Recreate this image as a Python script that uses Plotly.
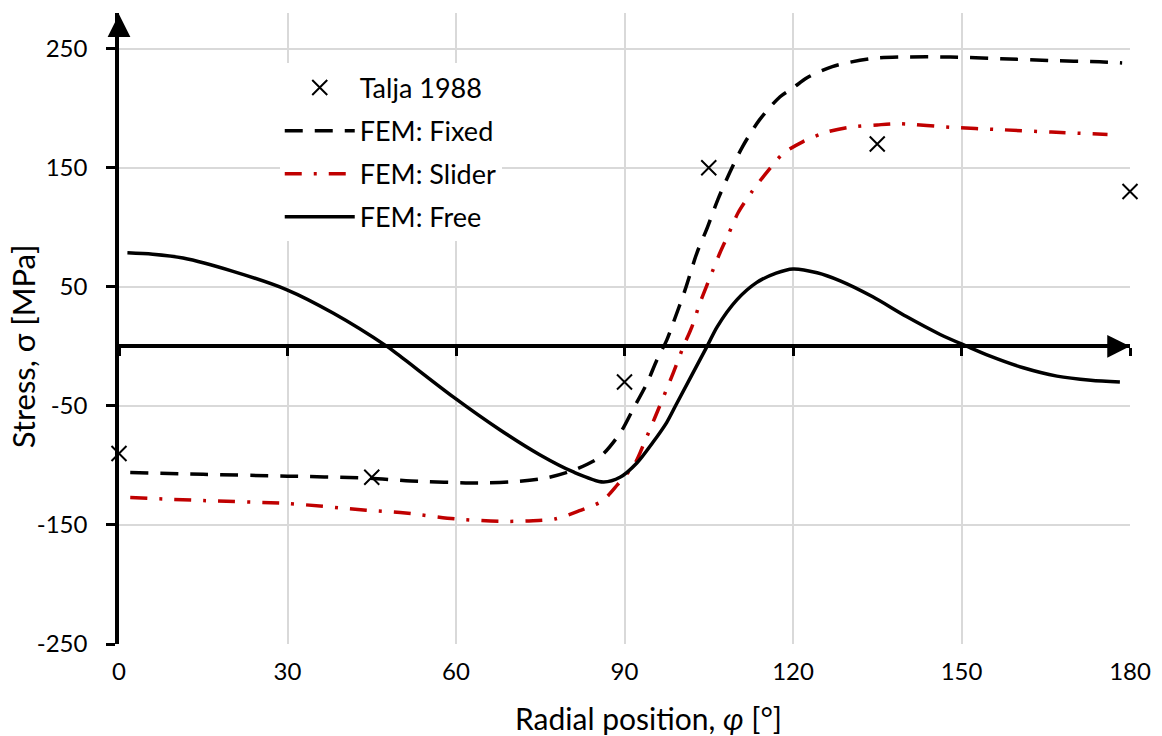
import plotly.graph_objects as go

# ---------------- data ----------------
talja_x = [0, 45, 90, 105, 135, 180]
talja_y = [-90, -110, -30, 150, 170, 130]

fixed_x = [2, 15, 30, 44, 52, 64, 70, 76, 80.9, 85.6, 89.2, 91.5, 94, 95.8, 97.5, 98.7,
           100.8, 102.9, 104.6, 106.6, 108.7, 111, 114, 117.7, 120, 122.5, 127, 133.7,
           139, 148, 157, 166, 174.6, 178.6]
fixed_y = [-106, -107.5, -109, -110.6, -113, -114.7, -113.8, -110.6, -104, -93, -73, -53,
           -31, -11, 5, 20, 47.6, 78.6, 98, 123, 145.6, 167.6, 190, 209.7, 217, 225.6,
           235, 241.6, 243, 243, 241.6, 240, 239, 238]

slider_x = [2, 15, 30, 44, 51, 60, 68, 73, 77.6, 82, 86, 88.8, 91.9, 93.6, 95.4, 98.7,
            100.5, 102, 103.4, 104.9, 107, 108.5, 110.2, 112.7, 115.4, 118.2, 121.8, 126,
            130, 135, 139, 148, 157, 166, 176]
slider_y = [-127, -129.5, -132, -137.6, -140, -145, -147, -146.6, -145, -138, -130, -116,
            -98, -80, -60, -22, 0, 16.4, 36, 54, 78.6, 94, 112, 130, 146.6, 161.7, 172,
            180, 184, 186, 187, 184, 182, 180, 178]

free_x = [1.5, 6, 11.4, 20.3, 29.9, 38.1, 47.7, 50, 59.5, 67.8, 74.9, 80.9, 86.2, 89.2,
          92.2, 95, 97.5, 99.3, 104.7, 106.5, 110, 113.5, 117, 120, 124.3, 128.4, 134.2,
          140.2, 146.2, 151, 155, 161, 167, 173, 178.2]
free_y = [78.6, 77.4, 74.2, 63, 47.5, 28, 0, -8, -42.4, -70, -91, -105.5, -113.9, -110,
          -98, -81, -64, -48, 0, 16.4, 39, 53.5, 61.5, 65, 61.8, 55, 41.6, 25, 10, 0, -8,
          -18, -25, -28.5, -30]

x_ticks = [0, 30, 60, 90, 120, 150, 180]
y_ticks = [-250, -150, -50, 50, 150, 250]
y_tick_text = ["-250", "-150", "-50", "50", "150", "250"]
x_range = [0, 180]
y_range = [-250, 280]

FONT = "Lato"
RED = "#C00000"
GRID = "#d9d9d9"

fig = go.Figure()

fig.add_trace(go.Scatter(
    x=fixed_x, y=fixed_y, mode="lines", name="FEM: Fixed", legendrank=2,
    legendgroup="b", line=dict(color="black", width=3.5, dash="18px,12px",
                               shape="spline", smoothing=0.8)))
fig.add_trace(go.Scatter(
    x=slider_x, y=slider_y, mode="lines", name="FEM: Slider", legendrank=3,
    legendgroup="c", line=dict(color=RED, width=3.5, dash="17px,12px,3px,12px",
                               shape="spline", smoothing=0.8)))
fig.add_trace(go.Scatter(
    x=free_x, y=free_y, mode="lines", name="FEM: Free", legendrank=4,
    legendgroup="d", line=dict(color="black", width=3.5, shape="spline", smoothing=0.8)))
fig.add_trace(go.Scatter(
    x=talja_x, y=talja_y, mode="markers", name="Talja 1988", legendrank=1,
    legendgroup="a", cliponaxis=False, xaxis="x2",
    marker=dict(symbol="x-thin", size=15, line=dict(color="black", width=2))))

fig.update_layout(
    width=1162, height=736,
    margin=dict(l=119, r=32, t=13, b=92),
    paper_bgcolor="white", plot_bgcolor="white",
    font=dict(family=FONT, size=24, color="black"),
    showlegend=True,
    legend=dict(x=0.159, y=0.92, xanchor="left", yanchor="top",
                bgcolor="white", borderwidth=0, tracegroupgap=5,
                itemwidth=70, font=dict(size=27)),
    xaxis=dict(range=x_range, tickvals=x_ticks, showgrid=True, gridcolor=GRID,
               gridwidth=1.5, showline=False, zeroline=False, ticks="outside",
               ticklen=6, tickcolor="rgba(0,0,0,0)", tickfont=dict(size=24)),
    xaxis2=dict(range=x_range, tickvals=x_ticks, overlaying="x", anchor="free",
                position=(0 - y_range[0]) / (y_range[1] - y_range[0]),
                side="bottom", showgrid=False, zeroline=False, showline=True,
                linecolor="black", linewidth=3.5, ticks="outside", ticklen=8,
                tickwidth=3, tickcolor="black", showticklabels=False),
    yaxis=dict(range=y_range, tickvals=y_ticks, ticktext=y_tick_text, showgrid=True,
               gridcolor=GRID, gridwidth=1.5, zeroline=False, showline=True,
               linecolor="black", linewidth=3.5, ticks="outside", ticklen=9,
               tickwidth=3, tickcolor="black", ticklabelstandoff=14,
               tickfont=dict(size=24)),
)

# axis titles
fig.add_annotation(text="Radial position, <i>φ</i> [°]", xref="paper", yref="paper",
                   x=0.524, y=-0.117, xanchor="center", yanchor="middle",
                   showarrow=False, font=dict(size=30))
fig.add_annotation(text="Stress, σ [MPa]", xref="paper", yref="y", textangle=-90,
                   x=-0.095, y=0, xanchor="center", yanchor="middle",
                   showarrow=False, font=dict(size=31))

# arrowheads for the axes
fig.add_annotation(x=180, y=0, ax=172, ay=0, xref="x", yref="y", axref="x", ayref="y",
                   showarrow=True, arrowhead=2, arrowsize=1.3, arrowwidth=3.5,
                   arrowcolor="black", text="", standoff=0)
fig.add_annotation(x=0, y=279, ax=0, ay=262, xref="x", yref="y", axref="x", ayref="y",
                   showarrow=True, arrowhead=2, arrowsize=1.3, arrowwidth=3.5,
                   arrowcolor="black", text="", standoff=0)

fig.write_html("out.html")
